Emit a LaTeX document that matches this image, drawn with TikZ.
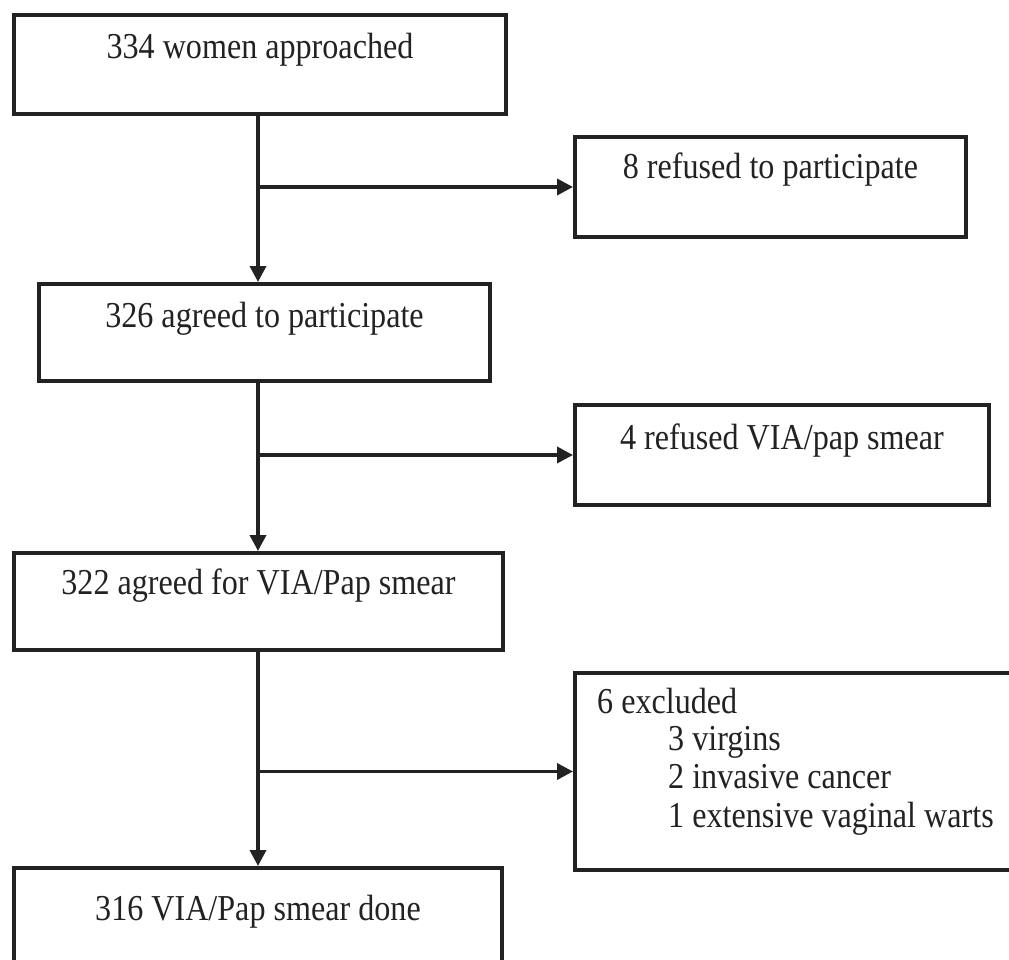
\documentclass[tikz,border=0pt]{standalone}
\usepackage{fontspec}
\setmainfont{Liberation Serif}[FakeStretch=0.88]
\usetikzlibrary{arrows.meta}
\definecolor{ink}{HTML}{222222}
\begin{document}
\begin{tikzpicture}[x=1pt,y=-1pt,
  box/.style={draw=ink, line width=4pt, rectangle, inner sep=0pt, anchor=north west,
              font=\fontsize{36.5}{38}\selectfont, text=ink},
  txt/.style={inner sep=0pt, anchor=base west, font=\fontsize{36.5}{38}\selectfont, text=ink},
  flow/.style={draw=ink, line width=3.5pt, -{Triangle[length=16pt,width=16pt]}}]
\useasboundingbox (0,0) rectangle (1009,960);
\clip (0,0) rectangle (1009,960);
\fill[white] (0,0) rectangle (1009,960);

\node[box, minimum width=492pt, text height=44pt, text depth=55pt] (b1) at (12,13) {334 women approached};
\node[box, minimum width=391pt, text height=42pt, text depth=58pt] (b2) at (573,135) {8 refused to participate};
\node[box, minimum width=451pt, text height=43pt, text depth=54pt] (b3) at (37,282) {326 agreed to participate};
\node[box, minimum width=414pt, text height=44pt, text depth=56pt] (b4) at (573,403) {4 refused VIA/pap smear};
\node[box, minimum width=489pt, text height=41pt, text depth=56pt] (b5) at (12,551) {322 agreed for VIA/Pap smear};
\node[box, minimum width=460pt, minimum height=197pt] (b6) at (573,671) {};
\node[box, minimum width=488pt, text height=52pt, text depth=70pt] (b7) at (12,866) {316 VIA/Pap smear done};

\node[txt] (x6a) at (597,713) {6 excluded};
\node[txt] (x6b) at (668,750) {3 virgins};
\node[txt] (x6c) at (668,788) {2 invasive cancer};
\node[txt] (x6d) at (668,827) {1 extensive vaginal warts};

\coordinate (sp) at (258,0);
\draw[flow] (b1.south -| sp) -- (b3.north -| sp);
\draw[flow] (b3.south -| sp) -- (b5.north -| sp);
\draw[flow] (b5.south -| sp) -- (b7.north -| sp);
\draw[flow] (b2.west -| sp) -- (b2.west);
\draw[flow] (b4.west -| sp) -- (b4.west);
\draw[flow] (b6.west -| sp) -- (b6.west);
\end{tikzpicture}
\end{document}
